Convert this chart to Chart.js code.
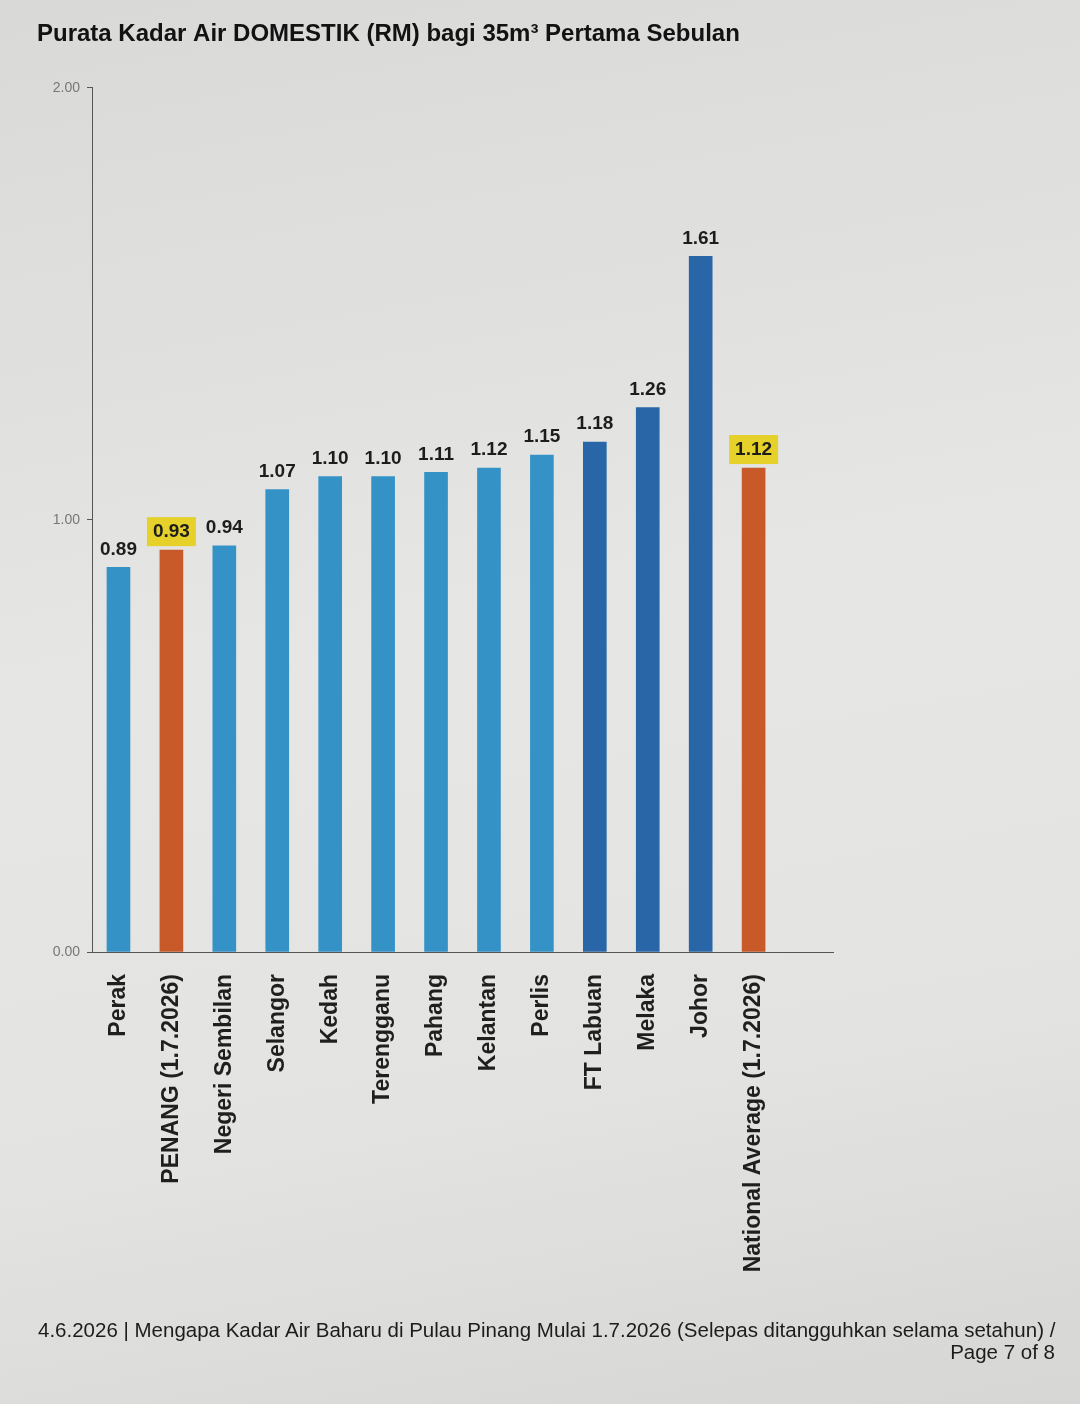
<!DOCTYPE html>
<html>
<head>
<meta charset="utf-8">
<script src="https://cdn.jsdelivr.net/npm/chart.js@4.4.1/dist/chart.umd.min.js"></script>
<style>
  body {
    margin: 0;
    width: 1080px;
    height: 1404px;
    overflow: hidden;
    background: linear-gradient(170deg, #d9d9d7 0%, #e6e6e4 45%, #e3e3e1 75%, #d6d6d4 100%);
    font-family: "Liberation Sans", Arial, sans-serif;
    position: relative;
  }
  #myChart { position: absolute; left: 0; top: 0; }
  .foot { position: absolute; font-size: 20.5px; line-height: 22px; color: #1c1c1c; white-space: nowrap; }
</style>
</head>
<body>
<canvas id="myChart" width="1080" height="1404"></canvas>
<div class="foot" style="left:38px; top:1319px;">4.6.2026 | Mengapa Kadar Air Baharu di Pulau Pinang Mulai 1.7.2026 (Selepas ditangguhkan selama setahun) /</div>
<div class="foot" style="right:25px; top:1341px;">Page 7 of 8</div>
<script>
const title = "Purata Kadar Air DOMESTIK (RM) bagi 35m³ Pertama Sebulan";

const states = [
  "Perak", "PENANG (1.7.2026)", "Negeri Sembilan", "Selangor", "Kedah",
  "Terengganu", "Pahang", "Kelantan", "Perlis", "FT Labuan", "Melaka",
  "Johor", "National Average (1.7.2026)"
];
const rates = [0.89, 0.93, 0.94, 1.07, 1.10, 1.10, 1.11, 1.12, 1.15, 1.18, 1.26, 1.61, 1.12];
const yTicks = [0, 1, 2];

// which bars get which colour
const highlighted = [1, 12];
const darkBars = [9, 10, 11];

const font = '"Liberation Sans", Arial, sans-serif';

function barColor(i) {
  if (highlighted.includes(i)) return "#c85a2a";
  if (darkBars.includes(i)) return "#2866a7";
  return "#3592c7";
}

// numbers above the bars, yellow box for Penang and the average
const valueLabels = {
  id: "valueLabels",
  afterDatasetsDraw(chart) {
    const ctx = chart.ctx;
    const meta = chart.getDatasetMeta(0);
    ctx.save();
    ctx.font = "bold 19px " + font;
    ctx.textAlign = "center";
    ctx.textBaseline = "middle";
    meta.data.forEach((bar, i) => {
      if (rates[i] == null) return;
      const txt = rates[i].toFixed(2);
      const y = bar.y - 19;
      if (highlighted.includes(i)) {
        const w = ctx.measureText(txt).width + 12;
        ctx.fillStyle = "#e5d12a";
        ctx.fillRect(bar.x - w / 2, y - 14, w, 29);
      }
      ctx.fillStyle = "#1d1d1d";
      ctx.fillText(txt, bar.x, y + 1);
    });
    ctx.restore();
  }
};

window.onload = function () {
  getGraph();
};

function getGraph() {
  var ctx = document.getElementById("myChart").getContext("2d");
  new Chart(ctx, {
    type: "bar",
    data: {
      // spare empty slot so the axis runs on past the last bar
      labels: states.concat([""]),
      datasets: [
        {
          data: rates,
          backgroundColor: rates.map((v, i) => barColor(i)),
          barThickness: 23,
        },
      ],
    },
    options: {
      responsive: false,
      animation: false,
      layout: { padding: { left: 37, right: 247, top: 0, bottom: 0 } },
      plugins: {
        legend: { display: false },
        tooltip: { enabled: false },
        title: {
          display: true,
          text: title,
          align: "start",
          color: "#121212",
          font: { family: font, size: 24, weight: "bold" },
          padding: { top: 20, bottom: 39 },
        },
      },
      scales: {
        x: {
          afterFit: (scale) => { scale.height = 452; },
          grid: { display: false },
          border: { display: true, color: "#555", width: 1 },
          ticks: {
            autoSkip: false,
            maxRotation: 90,
            minRotation: 90,
            padding: 14,
            color: "#1f1f1f",
            font: { family: font, size: 23, weight: "bold" },
          },
        },
        y: {
          min: 0,
          max: 2,
          afterFit: (scale) => { scale.width = 55; },
          afterBuildTicks: (scale) => { scale.ticks = yTicks.map((v) => ({ value: v })); },
          grid: { drawOnChartArea: false, drawTicks: true, tickLength: 5, color: "#555" },
          border: { display: true, color: "#555", width: 1 },
          ticks: {
            padding: 7,
            color: "#777",
            font: { family: font, size: 14 },
            callback: (v) => v.toFixed(2),
          },
        },
      },
    },
    plugins: [valueLabels],
  });
}
</script>
</body>
</html>
